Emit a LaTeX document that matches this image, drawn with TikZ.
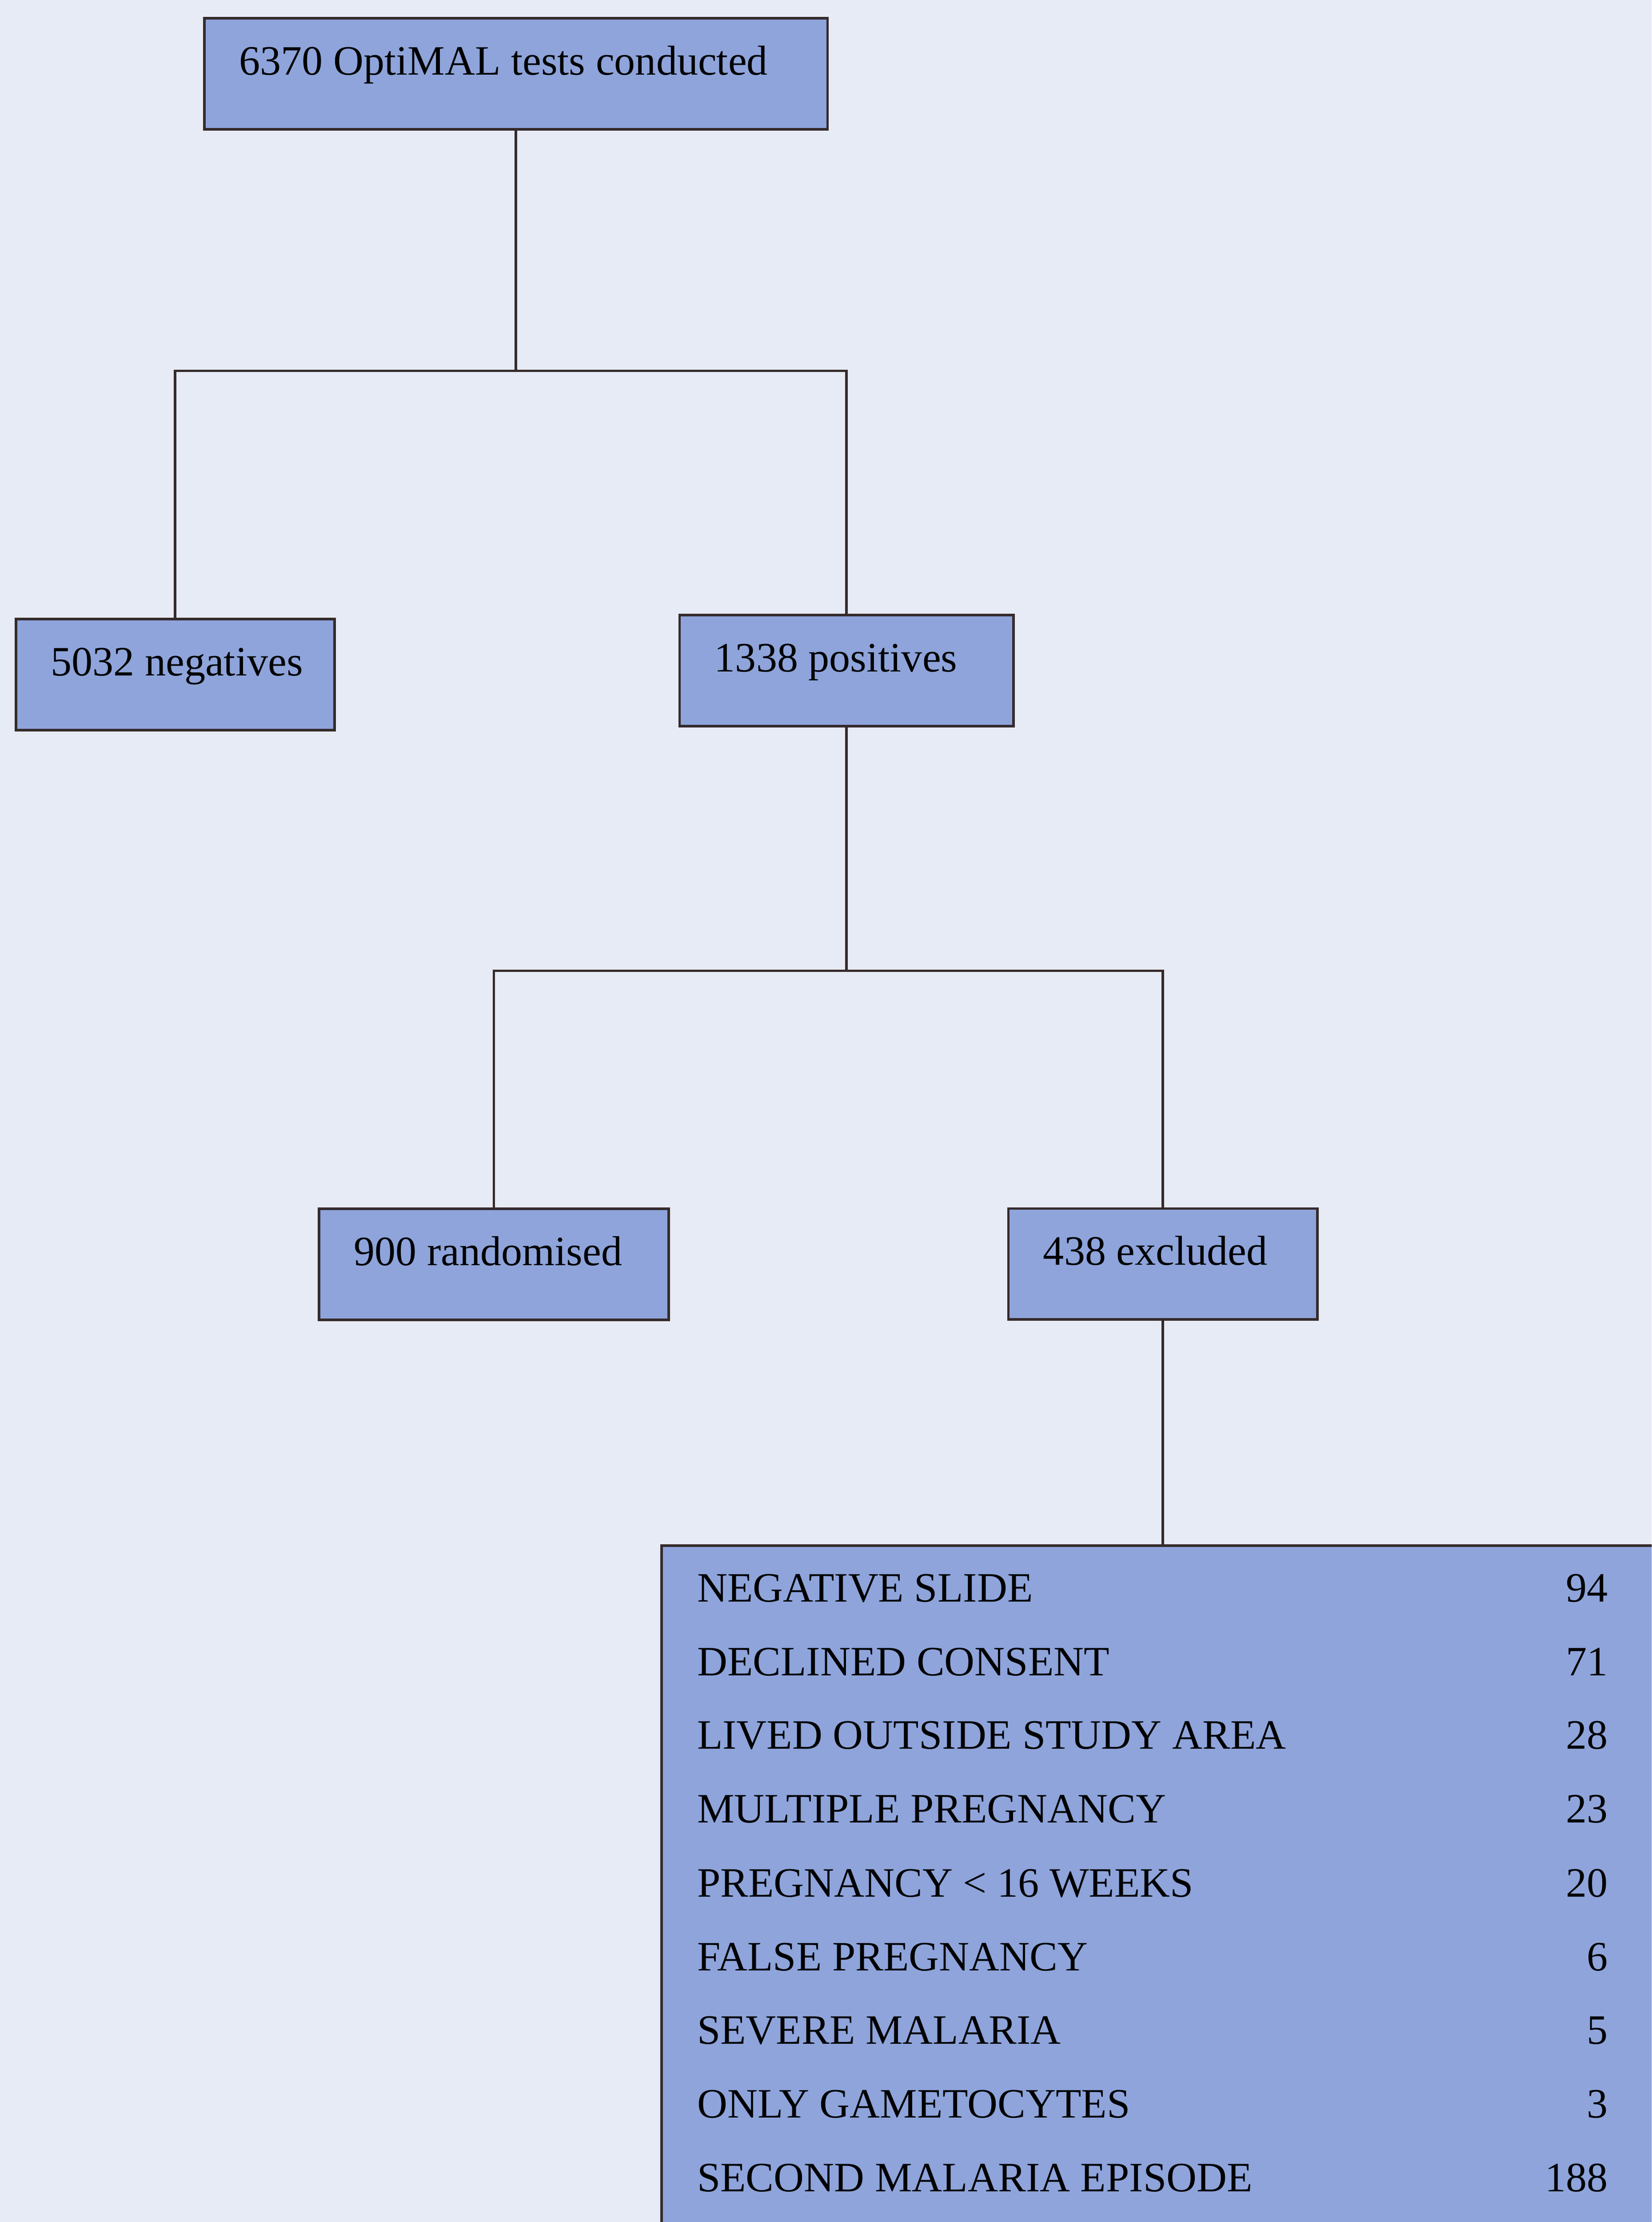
\documentclass[tikz,border=0pt]{standalone}
\usepackage{fontspec}
\setmainfont{Liberation Serif}
\definecolor{paper}{RGB}{231,235,246}
\definecolor{boxblue}{RGB}{142,164,219}
\definecolor{ink}{RGB}{53,42,44}
\begin{document}
\begin{tikzpicture}[
        font=\fontsize{30}{36}\selectfont,
        stage/.style={draw=ink, fill=boxblue, line width=1.8pt, anchor=north west, align=left,
            inner xsep=0.88cm, inner ysep=0pt, text height=1.43cm, text depth=1.37cm,
            execute at begin node={\hbox\bgroup\spaceskip=0pt\xspaceskip=0pt}, execute at end node={\egroup}},
        reasonbox/.style={draw=ink, fill=boxblue, line width=1.8pt, anchor=north west,
            minimum width=26cm, minimum height=18cm},
        reason/.style={anchor=base west, inner sep=0pt},
        count/.style={anchor=base east, inner sep=0pt},
        link/.style={draw=ink, line width=1.8pt}]
    \useasboundingbox (0,0) rectangle (41.64,-56.01);
    \clip (0,0) rectangle (41.64,-56.01);
    \fill[paper] (0,0) rectangle (41.64,-56.01);

    \node[stage, text width=13.95cm] (tests) at (5.12,-0.43) {6370 OptiMAL tests conducted};
    \node[stage, text width=6.27cm] (neg) at (0.37,-15.57) {5032 negatives};
    \node[stage, text width=6.66cm] (pos) at (17.10,-15.47) {1338 positives};
    \node[stage, text width=7.06cm] (rand) at (8.01,-30.44) {900 randomised};
    \node[stage, text width=6.03cm] (excl) at (25.39,-30.43) {438 excluded};
    \node[reasonbox] (reasons) at (16.65,-38.93) {};

    \node[reason] (s1) at (17.57,-40.38) {NEGATIVE SLIDE};
    \node[reason] (s2) at (17.57,-42.24) {DECLINED CONSENT};
    \node[reason] (s3) at (17.57,-44.09) {LIVED OUTSIDE STUDY AREA};
    \node[reason] (s4) at (17.57,-45.95) {MULTIPLE PREGNANCY};
    \node[reason] (s5) at (17.57,-47.81) {PREGNANCY < 16 WEEKS};
    \node[reason] (s6) at (17.57,-49.67) {FALSE PREGNANCY};
    \node[reason] (s7) at (17.57,-51.52) {SEVERE MALARIA};
    \node[reason] (s8) at (17.57,-53.38) {ONLY GAMETOCYTES};
    \node[reason] (s9) at (17.57,-55.24) {SECOND MALARIA EPISODE};
    \node[count] (n1) at (40.54,-40.38) {94};
    \node[count] (n2) at (40.54,-42.24) {71};
    \node[count] (n3) at (40.54,-44.09) {28};
    \node[count] (n4) at (40.54,-45.95) {23};
    \node[count] (n5) at (40.54,-47.81) {20};
    \node[count] (n6) at (40.54,-49.67) {6};
    \node[count] (n7) at (40.54,-51.52) {5};
    \node[count] (n8) at (40.54,-53.38) {3};
    \node[count] (n9) at (40.54,-55.24) {188};

    \coordinate (fork1) at (tests.south |- 0,-9.35);
    \coordinate (fork2) at (pos.south |- 0,-24.47);

    \draw[link] (tests.south) -- (fork1); \draw[link] (fork1) -| (neg.north); \draw[link] (fork1) -| (pos.north);
    \draw[link] (pos.south) -- (fork2); \draw[link] (fork2) -| (rand.north); \draw[link] (fork2) -| (excl.north);
    \draw[link] (excl.south) -- (excl.south |- reasons.north);
\end{tikzpicture}
\end{document}
